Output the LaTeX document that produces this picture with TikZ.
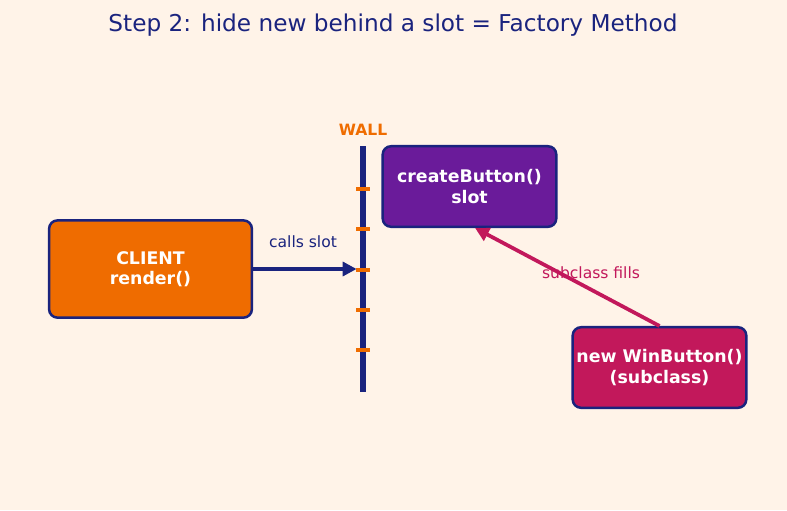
\documentclass[tikz,border=0pt]{standalone}
\usepackage{fontspec}
\setmainfont{DejaVu Sans}
\usetikzlibrary{arrows.meta, positioning}

\definecolor{paper}{HTML}{FFF3E8}
\definecolor{navy}{HTML}{1A237E}
\definecolor{clientorange}{HTML}{EF6C00}
\definecolor{slotpurple}{HTML}{6A1B9A}
\definecolor{subcrimson}{HTML}{C2185B}

\begin{document}
\begin{tikzpicture}[x=0.72pt, y=-0.72pt]

  \tikzstyle{box} = [rectangle, rounded corners=6pt, draw=navy, line width=1.8pt, text=white, font={\fontsize{12.5}{14.5}\selectfont\bfseries}, align=center, inner sep=0pt];
  \tikzstyle{arrow} = [line width=2.7pt, -{Triangle[length=10pt, width=10pt]}];
  \tikzstyle{tick} = [clientorange, line width=2.3pt];
  \tikzstyle{label} = [font={\fontsize{11.2}{13}\selectfont}];

  \fill[paper] (0,0) rectangle (787,510);
  \useasboundingbox (0,0) rectangle (787,510);

  \node [navy, font={\fontsize{16.7}{19}\selectfont}] (title) at (393,25) {Step 2: hide new behind a slot = Factory Method};

  \node [box, fill=clientorange, minimum width=146pt, minimum height=70pt] (client) at (150.5,269) {CLIENT\\render()};
  \node [box, fill=slotpurple, minimum width=125pt, minimum height=58pt] (slot) at (469.5,186.5) {createButton()\\slot};
  \node [box, fill=subcrimson, minimum width=125pt, minimum height=58pt] (win) at (659.5,367.5) {new WinButton()\\(subclass)};

  \node [fill=navy, minimum width=4.8pt, minimum height=177pt, inner sep=0pt] (wall) at (363,269) {};
  \node [clientorange, font={\fontsize{11.2}{13}\selectfont\bfseries}] (wall-label) at (363,130) {WALL};
  \foreach \ty in {189,229,270,310,350}
    \draw[tick] (356,\ty) -- (370,\ty);

  \draw[arrow, navy, shorten >=2pt] (client.east) -- (wall.west);
  \node [label, navy] (calls-label) at (303,242) {calls slot};

  \draw[arrow, subcrimson] (win.north) -- ([xshift=4pt]slot.south);
  \node [label, subcrimson] (fills-label) at (591,273) {subclass fills};

\end{tikzpicture}
\end{document}
